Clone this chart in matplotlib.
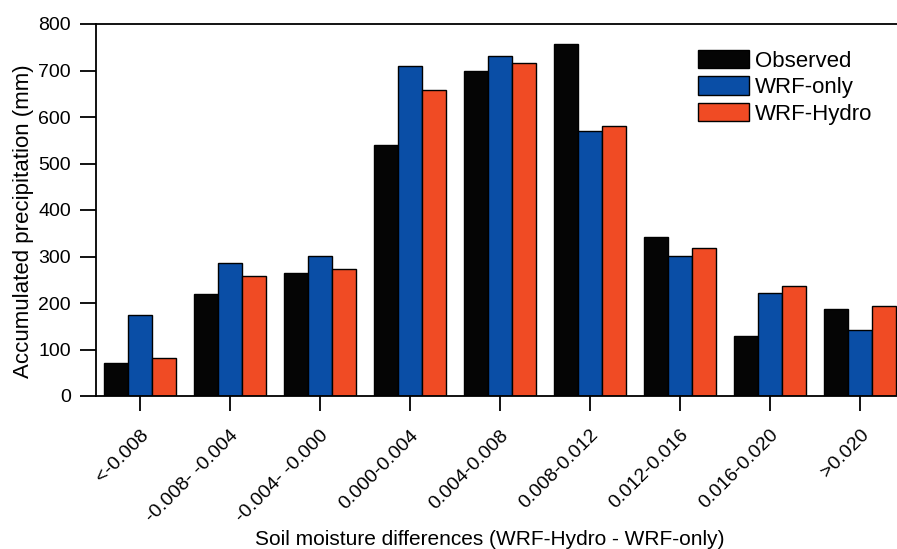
import numpy as np
import matplotlib
matplotlib.use("Agg")
import matplotlib.pyplot as plt

plt.rcParams["font.family"] = ["Liberation Sans", "DejaVu Sans"]

categories = ["<-0.008", "-0.008- -0.004", "-0.004- -0.000", "0.000-0.004",
              "0.004-0.008", "0.008-0.012", "0.012-0.016", "0.016-0.020", ">0.020"]
observed = [72, 220, 265, 540, 700, 758, 343, 128, 187]
wrf_only = [175, 285, 301, 709, 731, 569, 301, 222, 143]
wrf_hydro = [82, 259, 273, 659, 716, 581, 318, 237, 194]

series = [("Observed", observed, "#050505"),
          ("WRF-only", wrf_only, "#0a4ea6"),
          ("WRF-Hydro", wrf_hydro, "#f04b24")]

W, H = 897, 549
fig = plt.figure(figsize=(W / 100, H / 100), dpi=100)
ax = fig.add_axes([96 / W, (H - 396) / H, (W - 96) / W, 372 / H])

x = np.arange(len(categories))
bw = 0.8 / 3
for i, (name, vals, col) in enumerate(series):
    ax.bar(x + (i - 1) * bw, vals, bw, color=col, edgecolor="black", lw=1.0, label=name)

ax.set_xlim(-0.489, 8.41)
ax.set_ylim(0, 800)
ax.set_yticks(range(0, 801, 100))
ax.tick_params(axis="y", length=11.5, width=1.3, pad=6.5, labelsize=14)
ax.set_xticks(x)
ax.set_xticklabels(categories, rotation=45, ha="right", rotation_mode="anchor")
ax.tick_params(axis="x", length=11, width=1.3, direction="out", pad=11, labelsize=14)

ax.spines["right"].set_visible(False)
for s in ["left", "top", "bottom"]:
    ax.spines[s].set_linewidth(1.3)

ax.set_ylabel("Accumulated precipitation (mm)", fontsize=16)
ax.yaxis.set_label_coords(-0.077, 0.47)
ax.set_xlabel("Soil moisture differences (WRF-Hydro - WRF-only)", fontsize=15)
ax.xaxis.set_label_coords(0.492, -0.36)

ax.legend(loc="upper right", bbox_to_anchor=(0.980, 0.954), frameon=False, fontsize=16,
          handlelength=2.3, handleheight=0.9, handletextpad=0.25, labelspacing=0.2,
          borderaxespad=0)

fig.savefig("out.png", dpi=100)
